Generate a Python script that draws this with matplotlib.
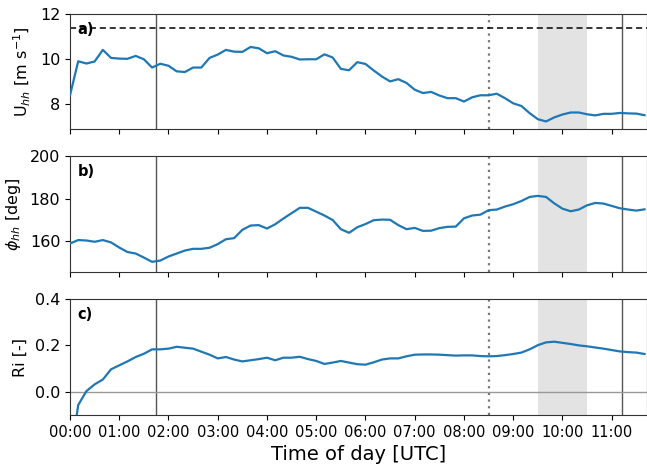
import numpy as np
import pandas as pd
import matplotlib
matplotlib.use("Agg")
import matplotlib.pyplot as plt
import matplotlib.dates as mdates

# 10-minute samples from 00:00 UTC
times = pd.date_range("2020-01-01 00:00", periods=71, freq="10min")

# hub-height wind speed [m s-1]
u_hh = [8.37, 9.89, 9.79, 9.88, 10.40, 10.04, 10.01, 10.00, 10.13, 9.98,
        9.61, 9.78, 9.69, 9.44, 9.41, 9.61, 9.61, 10.04, 10.19, 10.40,
        10.32, 10.31, 10.53, 10.47, 10.25, 10.34, 10.15, 10.09, 9.97, 9.98,
        9.98, 10.20, 10.06, 9.55, 9.49, 9.85, 9.77, 9.48, 9.21, 8.99,
        9.09, 8.92, 8.62, 8.47, 8.52, 8.36, 8.24, 8.24, 8.09, 8.28,
        8.37, 8.37, 8.44, 8.24, 8.01, 7.89, 7.57, 7.30, 7.20, 7.38,
        7.51, 7.60, 7.60, 7.52, 7.47, 7.54, 7.54, 7.58, 7.56, 7.55,
        7.48]

# hub-height wind direction [deg]
phi_hh = [159.0, 160.6, 160.4, 159.8, 160.6, 159.5, 157.1, 155.0, 154.3, 152.4,
          150.4, 151.0, 152.9, 154.3, 155.7, 156.5, 156.5, 157.0, 158.7, 161.0,
          161.5, 165.4, 167.4, 167.6, 166.0, 168.0, 170.7, 173.2, 175.7, 175.7,
          173.9, 172.1, 170.0, 165.7, 164.0, 166.6, 168.1, 169.9, 170.2, 170.1,
          167.6, 165.7, 166.3, 164.9, 165.0, 166.2, 166.8, 166.9, 170.8, 172.1,
          172.5, 174.6, 174.9, 176.3, 177.4, 178.9, 180.8, 181.3, 180.8, 177.8,
          175.3, 174.1, 174.9, 176.9, 178.0, 177.7, 176.6, 175.5, 174.9, 174.4,
          175.0]

# bulk Richardson number [-]
ri = [-0.30, -0.057, 0.003, 0.032, 0.053, 0.097, 0.114, 0.131, 0.150, 0.164,
      0.183, 0.183, 0.186, 0.194, 0.190, 0.186, 0.173, 0.160, 0.144, 0.150,
      0.139, 0.131, 0.136, 0.141, 0.147, 0.136, 0.147, 0.147, 0.151, 0.141,
      0.133, 0.120, 0.126, 0.133, 0.126, 0.119, 0.117, 0.127, 0.139, 0.144,
      0.144, 0.153, 0.160, 0.161, 0.161, 0.160, 0.158, 0.156, 0.157, 0.157,
      0.154, 0.153, 0.154, 0.158, 0.163, 0.169, 0.183, 0.201, 0.213, 0.216,
      0.211, 0.206, 0.200, 0.196, 0.191, 0.186, 0.180, 0.174, 0.171, 0.169,
      0.163]

rated_speed = 11.4
event_lines = ["2020-01-01 01:45", "2020-01-01 11:13"]
transition_time = "2020-01-01 08:30"
window = ("2020-01-01 09:30", "2020-01-01 10:30")
x_range = ("2020-01-01 00:00", "2020-01-01 11:43")

panels = [
    dict(y=u_hh, ylim=(6.85, 12), yticks=[8, 10, 12],
         ylabel=r"U$_{hh}$ [m s$^{-1}$]", tag="a)"),
    dict(y=phi_hh, ylim=(145.5, 200), yticks=[160, 180, 200],
         ylabel=r"$\phi_{hh}$ [deg]", tag="b)"),
    dict(y=ri, ylim=(-0.1, 0.4), yticks=[0.0, 0.2, 0.4],
         ylabel="Ri [-]", tag="c)"),
]

fig = plt.figure(figsize=(6.47, 4.65), dpi=100)
rects = [(0.1082, 0.722, 0.8918, 0.2477),
         (0.1082, 0.4144, 0.8918, 0.2502),
         (0.1082, 0.1075, 0.8918, 0.2495)]

axes = []
for i, (p, r) in enumerate(zip(panels, rects)):
    ax = fig.add_axes(r)
    axes.append(ax)
    ax.axvspan(pd.Timestamp(window[0]), pd.Timestamp(window[1]),
               color="#e3e3e3", lw=0, zorder=0)
    for t in event_lines:
        ax.axvline(pd.Timestamp(t), color="#555555", lw=1.0, zorder=1)
    ax.axvline(pd.Timestamp(transition_time), color="#777777", lw=1.6,
               ls=(0, (1, 2)), zorder=1)
    if i == 0:
        ax.axhline(rated_speed, color="k", lw=1.1, ls=(0, (4, 2.5)), zorder=1)
    if i == 2:
        ax.axhline(0.0, color="#999999", lw=1.0, zorder=1)
    ax.plot(times, p["y"], color="#1f77b4", lw=1.6, zorder=3)
    ax.set_xlim(pd.Timestamp(x_range[0]), pd.Timestamp(x_range[1]))
    ax.set_ylim(*p["ylim"])
    ax.set_yticks(p["yticks"])
    ax.set_ylabel(p["ylabel"], fontsize=11.5, labelpad=5)
    ax.text(0.013, 0.93, p["tag"], transform=ax.transAxes, fontsize=10.5,
            fontweight="bold", va="top", ha="left", zorder=4)
    ax.xaxis.set_major_locator(mdates.HourLocator())
    ax.xaxis.set_major_formatter(mdates.DateFormatter("%H:%M"))
    ax.tick_params(axis="y", labelsize=11.5)
    ax.tick_params(axis="x", labelsize=10.5)
    for s in ax.spines.values():
        s.set_color("#333333")
    if i < 2:
        ax.tick_params(axis="x", labelbottom=False)

axes[2].set_yticklabels(["0.0", "0.2", "0.4"])
axes[2].set_xlabel("Time of day [UTC]", fontsize=14)

fig.savefig("out.png", dpi=100)
